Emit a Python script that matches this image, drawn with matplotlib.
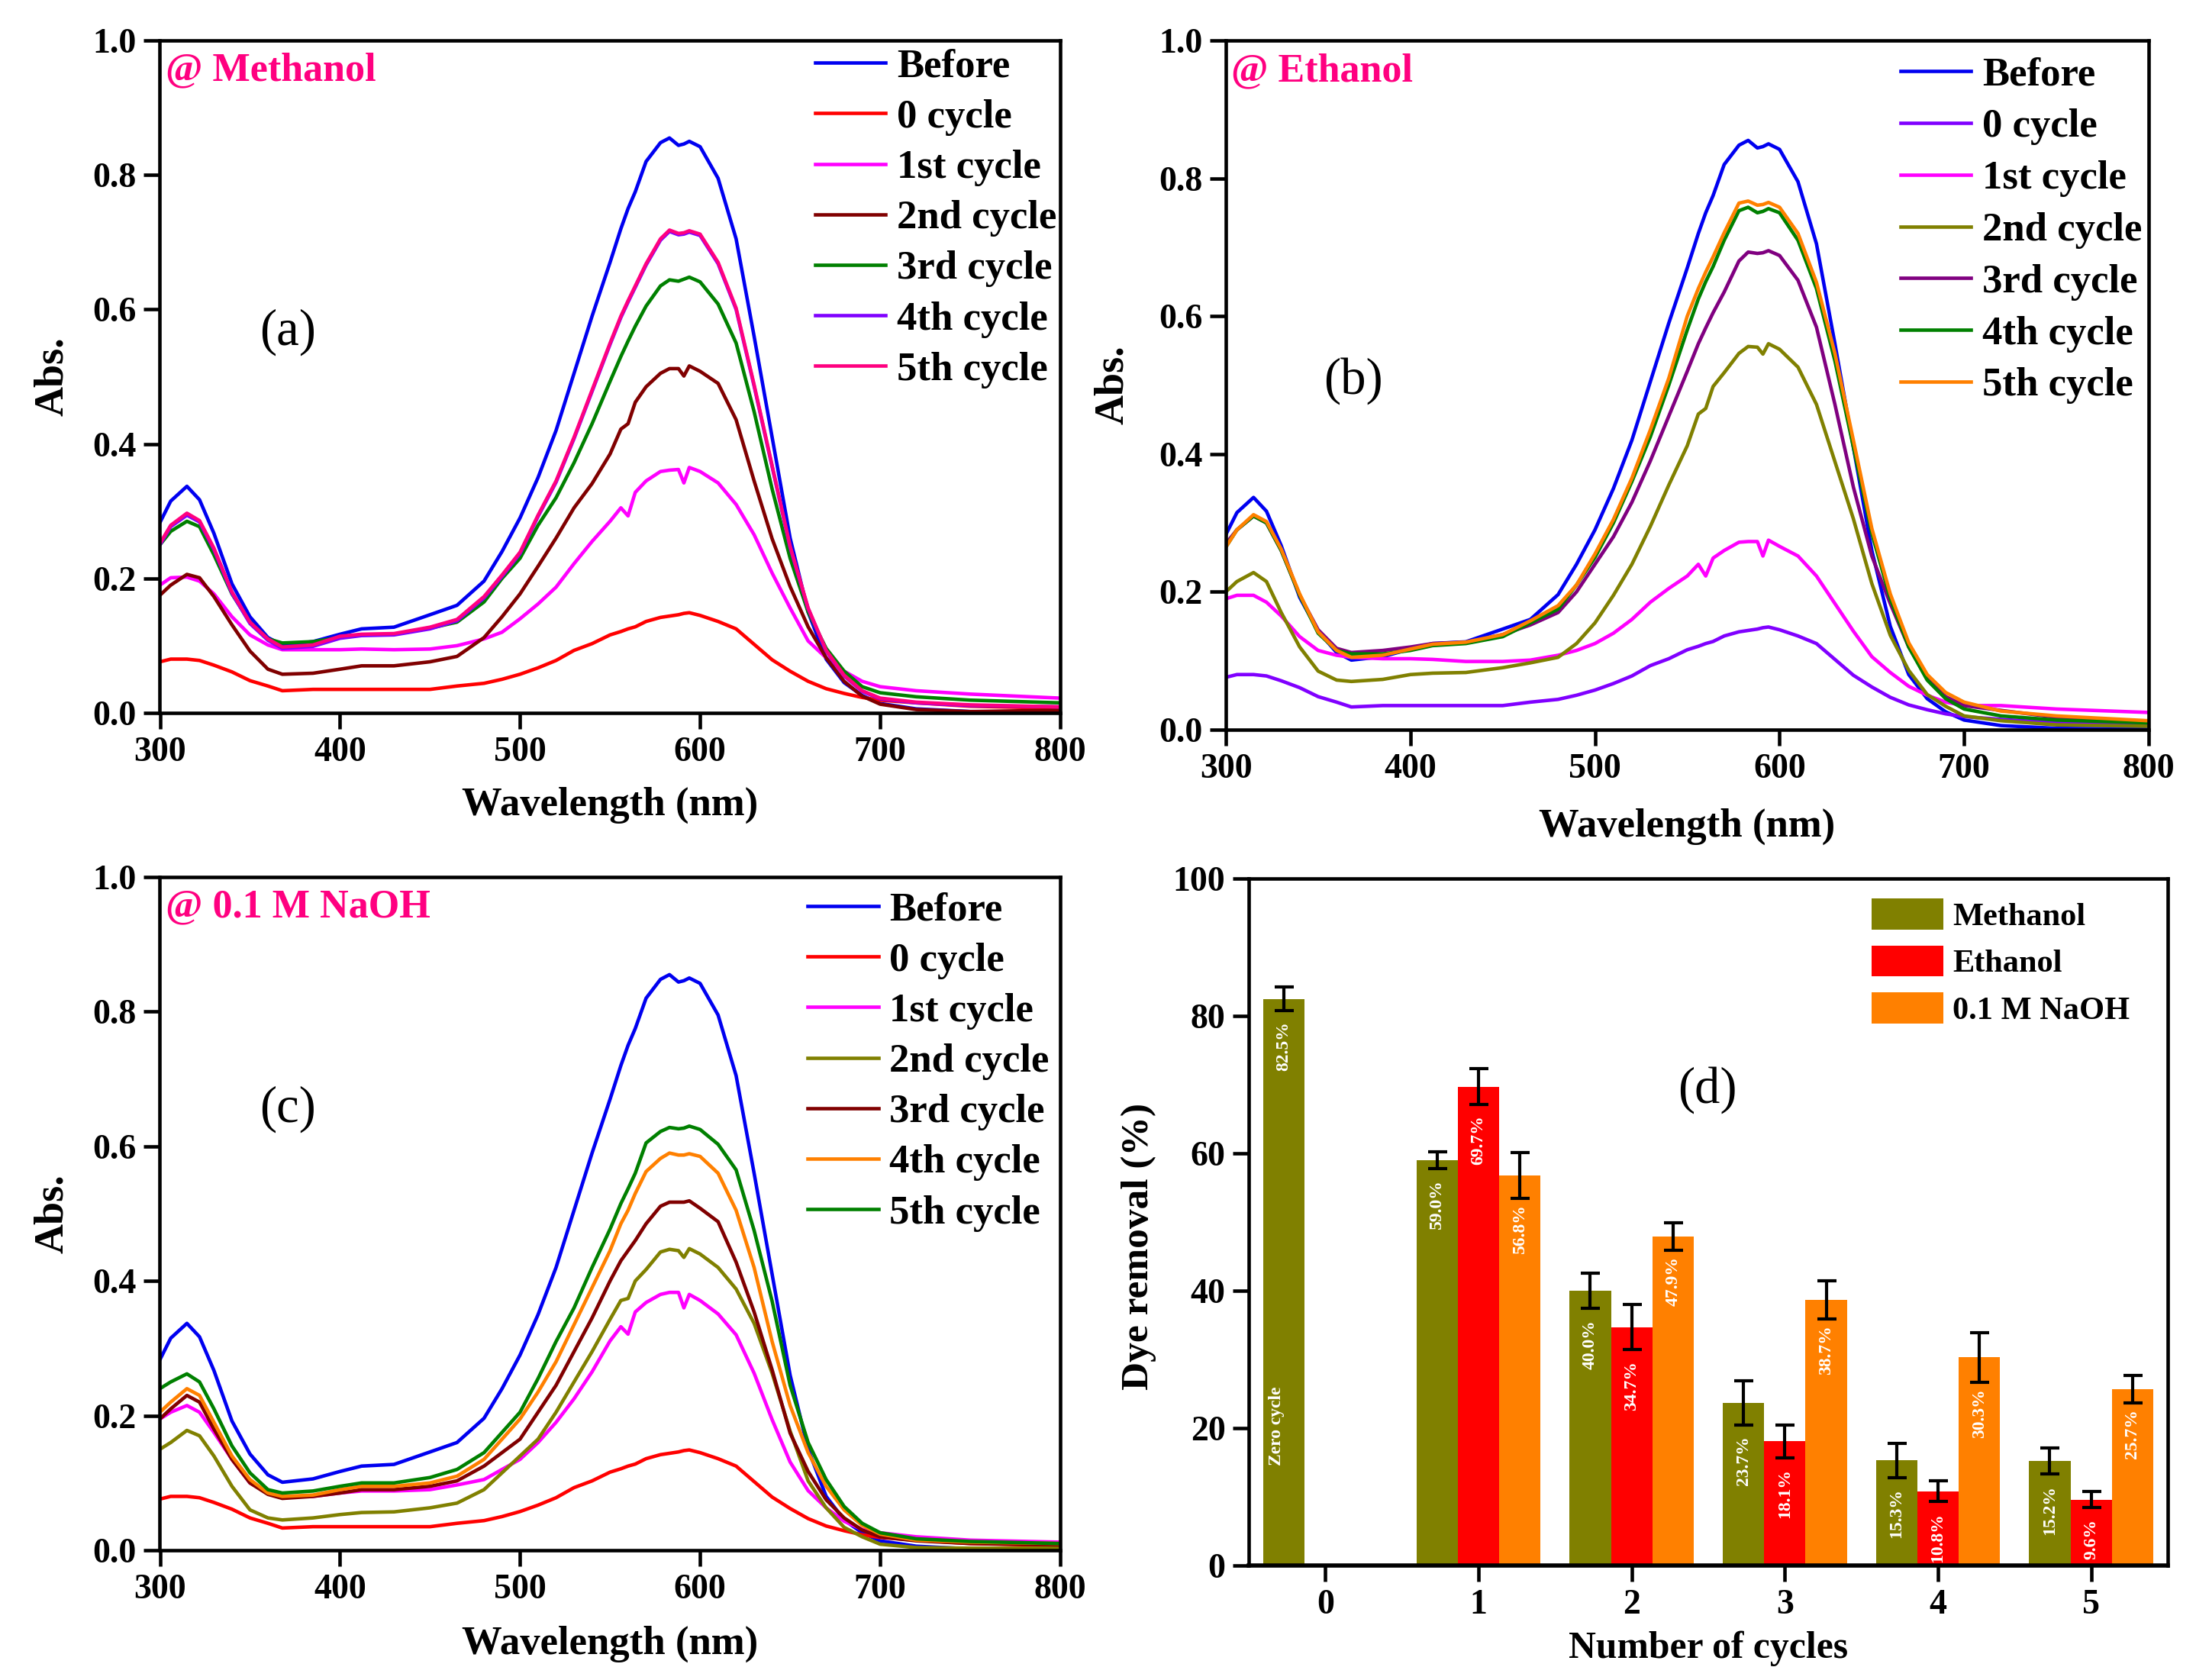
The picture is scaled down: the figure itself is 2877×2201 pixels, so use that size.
import matplotlib
matplotlib.use('Agg')
import matplotlib.pyplot as plt
import numpy as np

plt.rcParams['font.family'] = ['Liberation Serif', 'DejaVu Serif']
plt.rcParams['font.weight'] = 'bold'

W, H = 2877, 2201

wl = [300, 306, 315, 322, 330, 340, 350, 360, 368, 385, 400, 412, 430, 450, 465, 480,
      490, 500, 510, 520, 530, 540, 550, 556, 560, 564, 570, 578, 583, 588, 591, 594,
      600, 610, 620, 630, 640, 650, 660, 670, 680, 690, 700, 720, 750, 800]

before = [.283, .315, .337, .317, .267, .192, .143, .112, .101, .106, .117, .125, .1275, .146, .16, .196,
          .24, .29, .35, .42, .505, .59, .67, .72, .75, .775, .82, .848, .855, .844, .846, .85,
          .842, .795, .705, .56, .41, .26, .15, .08, .045, .026, .014, .006, .002, .001]
zero = [.076, .08, .08, .078, .071, .061, .048, .04, .033, .035, .035, .035, .035, .035, .04, .044,
        .05, .0575, .067, .078, .093, .103, .116, .121, .125, .128, .136, .142, .144, .146, .148, .149,
        .145, .136, .125, .102, .079, .062, .047, .036, .029, .023, .019, .015, .01, .007]

a_1st = [.19, .201, .202, .196, .177, .143, .116, .101, .094, .094, .094, .095, .094, .095, .1, .11,
         .12, .14, .162, .187, .222, .255, .285, .305, .293, .328, .345, .359, .361, .362, .342, .365,
         .359, .342, .31, .265, .208, .156, .107, .082, .062, .047, .039, .033, .028, .022]
a_2nd = [.175, .19, .206, .201, .173, .131, .092, .065, .0575, .059, .065, .07, .07, .076, .084, .112,
         .143, .177, .218, .26, .305, .341, .385, .422, .43, .462, .485, .505, .512, .512, .501, .516,
         .508, .49, .436, .345, .259, .188, .128, .082, .047, .025, .013, .005, .002, .004]
a_3rd = [.25, .27, .285, .277, .235, .177, .135, .11, .104, .106, .112, .116, .117, .126, .135, .165,
         .2, .23, .279, .32, .372, .43, .493, .53, .553, .575, .605, .635, .644, .642, .645, .648,
         .641, .608, .55, .448, .333, .23, .15, .096, .062, .039, .03, .024, .019, .015]
a_4th = [.25, .277, .294, .284, .243, .178, .133, .108, .096, .099, .111, .115, .116, .125, .137, .171,
         .203, .237, .292, .343, .408, .478, .548, .588, .611, .633, .666, .703, .716, .711, .712, .715,
         .71, .668, .6, .486, .366, .246, .155, .092, .055, .032, .021, .015, .011, .009]
a_5th = [.252, .279, .297, .286, .245, .18, .135, .11, .098, .101, .114, .117, .118, .1275, .139, .173,
         .205, .239, .294, .345, .41, .48, .55, .59, .613, .635, .668, .705, .718, .713, .714, .717,
         .712, .67, .602, .488, .368, .248, .156, .093, .056, .033, .022, .016, .012, .009]

b_1st = [.19, .195, .195, .185, .165, .135, .115, .108, .105, .103, .103, .102, .099, .099, .101, .108,
         .115, .125, .14, .16, .185, .205, .223, .24, .223, .249, .26, .272, .273, .273, .252, .275,
         .266, .252, .223, .183, .143, .106, .083, .063, .05, .04, .035, .035, .03, .025]
b_2nd = [.2, .215, .228, .215, .17, .12, .085, .072, .07, .073, .08, .082, .083, .09, .097, .105,
         .125, .155, .195, .24, .295, .355, .412, .458, .466, .498, .518, .546, .556, .555, .545, .56,
         .552, .526, .472, .389, .306, .212, .137, .086, .051, .034, .02, .013, .007, .005]
b_3rd = [.27, .29, .31, .30, .26, .195, .145, .118, .112, .115, .12, .125, .127, .138, .152, .17,
         .2, .24, .28, .33, .39, .455, .52, .56, .583, .605, .635, .68, .693, .691, .692, .695,
         .688, .652, .584, .472, .352, .252, .183, .12, .075, .048, .035, .028, .018, .01]
b_4th = [.265, .29, .31, .30, .26, .195, .14, .115, .11, .11, .115, .122, .125, .135, .155, .175,
         .21, .25, .30, .36, .425, .50, .58, .625, .65, .672, .71, .753, .758, .75, .752, .756,
         .75, .71, .64, .535, .41, .285, .19, .12, .072, .045, .03, .02, .014, .01]
b_5th = [.265, .29, .312, .302, .262, .197, .142, .115, .105, .108, .117, .124, .127, .138, .158, .18,
         .21, .255, .305, .365, .435, .51, .60, .64, .664, .686, .721, .764, .767, .761, .762, .765,
         .758, .72, .649, .546, .42, .292, .197, .126, .08, .054, .04, .027, .02, .013]

c_1st = [.195, .205, .215, .205, .175, .135, .10, .085, .08, .08, .085, .088, .088, .09, .097, .105,
         .12, .135, .16, .19, .225, .265, .311, .332, .321, .354, .368, .38, .383, .383, .36, .38,
         .371, .351, .32, .263, .194, .131, .0885, .063, .043, .031, .026, .02, .015, .012]
c_2nd = [.15, .16, .178, .17, .14, .095, .06, .048, .045, .048, .053, .056, .057, .063, .07, .09,
         .115, .14, .165, .205, .25, .295, .343, .371, .374, .40, .417, .443, .447, .445, .435, .448,
         .44, .42, .388, .337, .263, .177, .103, .063, .034, .02, .009, .004, .003, .003]
c_3rd = [.195, .21, .23, .22, .18, .135, .10, .083, .077, .08, .085, .09, .09, .095, .103, .125,
         .145, .165, .205, .245, .295, .345, .40, .43, .445, .46, .485, .511, .517, .517, .517, .519,
         .508, .488, .428, .354, .268, .174, .117, .075, .048, .03, .02, .014, .01, .008]
c_4th = [.205, .22, .24, .23, .19, .14, .105, .085, .08, .082, .09, .095, .095, .10, .11, .135,
         .165, .195, .235, .28, .335, .39, .445, .485, .505, .53, .5625, .582, .59, .587, .587, .589,
         .585, .56, .505, .42, .31, .215, .145, .095, .06, .037, .024, .015, .012, .01]
c_5th = [.24, .25, .262, .25, .21, .155, .115, .09, .085, .088, .095, .10, .10, .108, .12, .145,
         .175, .205, .255, .31, .36, .42, .477, .515, .537, .56, .605, .622, .628, .626, .627, .63,
         .625, .603, .565, .475, .37, .245, .16, .105, .065, .04, .026, .017, .013, .01]

cycle_names = ['Before', '0 cycle', '1st cycle', '2nd cycle', '3rd cycle', '4th cycle', '5th cycle']

cycles = [0, 1, 2, 3, 4, 5]
methanol = [82.5, 59.0, 40.0, 23.7, 15.3, 15.2]
methanol_err = [1.7, 1.2, 2.6, 3.2, 2.5, 1.9]
methanol_labels = ['82.5%', '59.0%', '40.0%', '23.7%', '15.3%', '15.2%']
ethanol = [69.7, 34.7, 18.1, 10.8, 9.6]
ethanol_err = [2.6, 3.3, 2.4, 1.5, 1.2]
ethanol_labels = ['69.7%', '34.7%', '18.1%', '10.8%', '9.6%']
naoh = [56.8, 47.9, 38.7, 30.3, 25.7]
naoh_err = [3.3, 2.0, 2.8, 3.6, 2.0]
naoh_labels = ['56.8%', '47.9%', '38.7%', '30.3%', '25.7%']

BLUE = '#0000f0'
RED = '#ff0000'
MAGENTA = '#ff00ff'
DKRED = '#800000'
GREEN = '#008000'
VIOLET = '#8000ff'
PINK = '#ff0080'
ORANGE = '#ff8000'
OLIVE = '#808000'
PURPLE = '#800080'

fig = plt.figure(figsize=(W / 100, H / 100), dpi=100, facecolor='white')


def make_axes(left, right, top, bottom):
    return fig.add_axes([left / W, 1 - bottom / H, (right - left) / W, (bottom - top) / H])


def style_axes(ax):
    for s in ax.spines.values():
        s.set_linewidth(3.3)
    ax.tick_params(which='major', direction='out', length=15, width=3.3, labelsize=33, pad=7)


def spectra_panel(ax, curves, colors, tag, letter, letter_pos, legend_pos, xpad, ypad, spacing):
    for y, c, name in zip(curves, colors, cycle_names):
        ax.plot(wl, y, color=c, lw=3.3, label=name)
    ax.set_xlim(300, 800)
    ax.set_ylim(0, 1.0)
    ax.set_xticks([300, 400, 500, 600, 700, 800])
    ax.set_yticks([0, .2, .4, .6, .8, 1.0])
    ax.set_yticklabels(['0.0', '0.2', '0.4', '0.6', '0.8', '1.0'])
    style_axes(ax)
    ax.set_xlabel('Wavelength (nm)', fontsize=38, fontweight='bold', labelpad=xpad)
    ax.set_ylabel('Abs.', fontsize=39, fontweight='bold', labelpad=ypad)
    ax.text(303, .955, tag, color=PINK, fontsize=37.5, fontweight='bold', va='center', ha='left')
    ax.text(letter_pos[0], letter_pos[1], letter, fontsize=48, fontweight='normal', ha='center', va='center')
    ax.legend(loc='upper left', bbox_to_anchor=legend_pos, frameon=False,
              borderaxespad=0, borderpad=0, handlelength=1.75, handletextpad=.28,
              labelspacing=spacing, prop={'weight': 'bold', 'size': 38})


ax_a = make_axes(209.5, 1389, 53, 934)
spectra_panel(ax_a, [before, zero, a_1st, a_2nd, a_3rd, a_4th, a_5th],
              [BLUE, RED, MAGENTA, DKRED, GREEN, VIOLET, PINK],
              '@ Methanol', '(a)', (371, .566), (.7275, .988), 17.5, 20, .345)

ax_b = make_axes(1606, 2815, 53, 956)
spectra_panel(ax_b, [before, zero, b_1st, b_2nd, b_3rd, b_4th, b_5th],
              [BLUE, VIOLET, MAGENTA, OLIVE, PURPLE, GREEN, ORANGE],
              '@ Ethanol', '(b)', (369, .506), (.731, .976), 21.5, 25, .375)

ax_c = make_axes(209.5, 1389, 1149, 2031)
spectra_panel(ax_c, [before, zero, c_1st, c_2nd, c_3rd, c_4th, c_5th],
              [BLUE, RED, MAGENTA, OLIVE, DKRED, ORANGE, GREEN],
              '@ 0.1 M NaOH', '(c)', (371, .655), (.7195, .978), 19, 20, .345)

# bar panel
ax_d = make_axes(1636, 2840, 1151, 2051)
width = .27
x_m = np.array(cycles) - width
x_rest = np.array(cycles[1:])
err_style = dict(ecolor='black', elinewidth=3, capsize=9, capthick=3)
ax_d.bar(x_m, methanol, width, color=OLIVE, yerr=methanol_err, error_kw=err_style, label='Methanol')
ax_d.bar(x_rest, ethanol, width, color=RED, yerr=ethanol_err, error_kw=err_style, label='Ethanol')
ax_d.bar(x_rest + width, naoh, width, color=ORANGE, yerr=naoh_err, error_kw=err_style, label='0.1 M NaOH')

lab = dict(color='white', fontsize=17, fontweight='bold', rotation=90, ha='center', va='top')
for x, v, e, t in zip(x_m, methanol, methanol_err, methanol_labels):
    ax_d.text(x, v - e - 1.6, t, **lab)
for x, v, e, t in zip(x_rest, ethanol, ethanol_err, ethanol_labels):
    ax_d.text(x, v - e - 1.6, t, **lab)
for x, v, e, t in zip(x_rest + width, naoh, naoh_err, naoh_labels):
    ax_d.text(x, v - e - 0.9, t, **lab)
ax_d.text(x_m[0] - .05, 26, 'Zero cycle', **lab)

ax_d.set_xlim(-.5, 5.5)
ax_d.set_ylim(0, 100)
ax_d.set_xticks(cycles)
ax_d.set_yticks([0, 20, 40, 60, 80, 100])
style_axes(ax_d)
ax_d.spines['bottom'].set_linewidth(4)
ax_d.set_xlabel('Number of cycles', fontsize=35.7, fontweight='bold', labelpad=9)
ax_d.set_ylabel('Dye removal (%)', fontsize=37, fontweight='bold', labelpad=16, y=.464)
ax_d.text(2.495, 69.2, '(d)', fontsize=48, fontweight='normal', ha='center', va='center')
ax_d.legend(loc='upper left', bbox_to_anchor=(.678, .971), frameon=False,
            borderaxespad=0, borderpad=0, handlelength=2.2, handleheight=1.1,
            handletextpad=.3, labelspacing=.42, prop={'weight': 'bold', 'size': 30.5})

fig.savefig('out.png', dpi=100)
